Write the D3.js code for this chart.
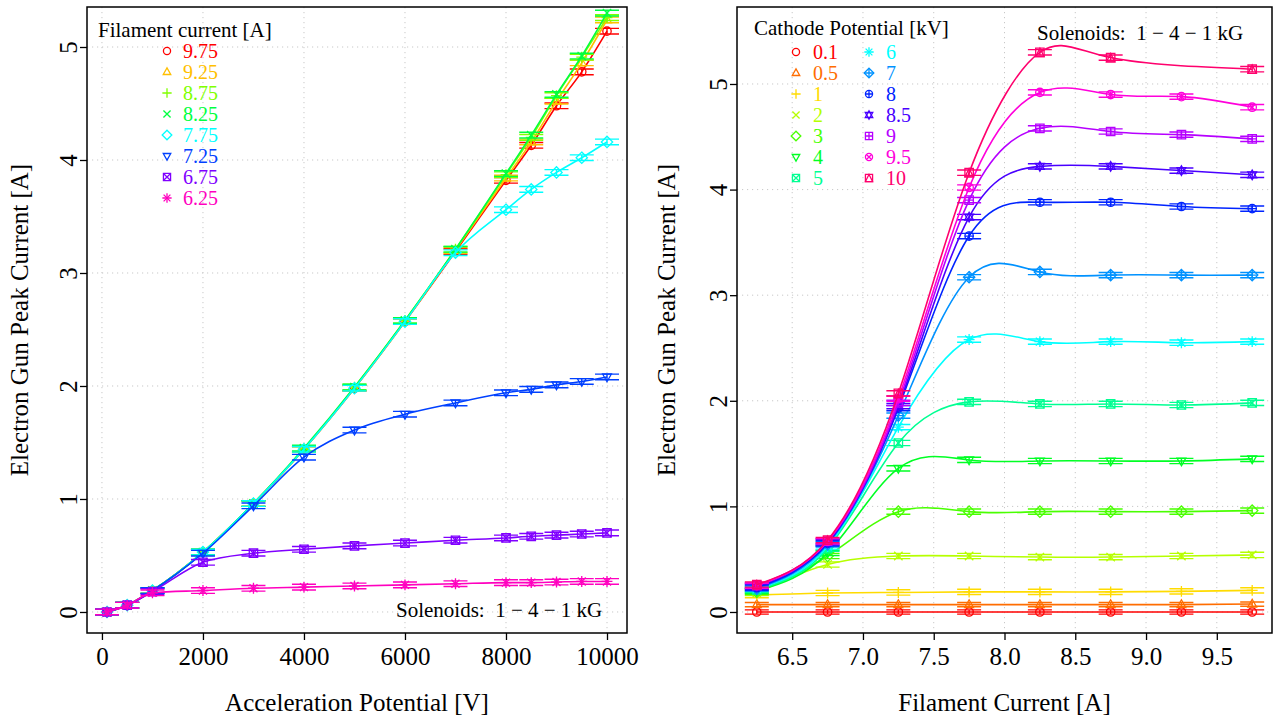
<!DOCTYPE html>
<html><head><meta charset="utf-8">
<script src="https://cdn.jsdelivr.net/npm/d3@7"></script>
<style>body{margin:0;background:#fff}svg{display:block}text{font-family:"Liberation Serif","Times New Roman",serif}</style>
</head><body><svg id="c" width="1282" height="719"></svg>
<script>
// ---------------- DATA ----------------
// Left panel: peak current vs acceleration potential, one series per filament current
const leftX = [100, 500, 1000, 2000, 3000, 4000, 5000, 6000, 7000, 8000, 8500, 9000, 9500, 10000];
const leftNames = ["9.75", "9.25", "8.75", "8.25", "7.75", "7.25", "6.75", "6.25"];
const leftY975 = [0.0, 0.06, 0.19, 0.53, 0.96, 1.44, 1.98, 2.57, 3.19, 3.82, 4.13, 4.48, 4.78, 5.14];
const leftY925 = [0.0, 0.06, 0.19, 0.53, 0.96, 1.44, 1.98, 2.57, 3.20, 3.84, 4.16, 4.52, 4.86, 5.24];
const leftY875 = [0.0, 0.06, 0.19, 0.53, 0.96, 1.44, 1.99, 2.58, 3.21, 3.87, 4.20, 4.57, 4.91, 5.26];
const leftY825 = [0.0, 0.06, 0.19, 0.53, 0.96, 1.45, 1.99, 2.58, 3.21, 3.88, 4.22, 4.58, 4.92, 5.30];
const leftY775 = [0.0, 0.06, 0.19, 0.53, 0.96, 1.44, 1.98, 2.57, 3.18, 3.56, 3.74, 3.89, 4.02, 4.16];
const leftY725 = [0.0, 0.06, 0.19, 0.52, 0.94, 1.37, 1.61, 1.75, 1.85, 1.94, 1.97, 2.01, 2.04, 2.08];
const leftY675 = [0.0, 0.06, 0.18, 0.44, 0.52, 0.555, 0.585, 0.61, 0.635, 0.655, 0.67, 0.68, 0.69, 0.70];
const leftY625 = [0.0, 0.06, 0.17, 0.19, 0.21, 0.22, 0.23, 0.24, 0.25, 0.26, 0.26, 0.265, 0.27, 0.27];
const leftErr = [0.025, 0.025, 0.025, 0.025, 0.025, 0.025, 0.025, 0.025];
const leftXTicks = [0, 2000, 4000, 6000, 8000, 10000];
const leftYTicks = [0, 1, 2, 3, 4, 5];

// Right panel: peak current vs filament current, one series per cathode potential
const rightX = [6.25, 6.75, 7.25, 7.75, 8.25, 8.75, 9.25, 9.75];
const rightNames = ["0.1", "0.5", "1", "2", "3", "4", "5", "6", "7", "8", "8.5", "9", "9.5", "10"];
const rY01 = [0.0, 0.0, 0.0, 0.0, 0.0, 0.0, 0.0, 0.0];
const rY05 = [0.07, 0.07, 0.07, 0.07, 0.07, 0.07, 0.07, 0.075];
const rY1 = [0.16, 0.18, 0.185, 0.19, 0.19, 0.19, 0.195, 0.205];
const rY2 = [0.18, 0.45, 0.53, 0.53, 0.52, 0.52, 0.53, 0.54];
const rY3 = [0.19, 0.53, 0.95, 0.95, 0.95, 0.95, 0.95, 0.96];
const rY4 = [0.20, 0.56, 1.36, 1.44, 1.43, 1.43, 1.43, 1.45];
const rY5 = [0.21, 0.60, 1.60, 1.99, 1.97, 1.97, 1.96, 1.98];
const rY6 = [0.22, 0.62, 1.75, 2.58, 2.56, 2.56, 2.55, 2.56];
const rY7 = [0.22, 0.64, 1.86, 3.17, 3.22, 3.19, 3.19, 3.19];
const rY8 = [0.23, 0.65, 1.93, 3.56, 3.88, 3.88, 3.84, 3.82];
const rY85 = [0.24, 0.66, 1.95, 3.74, 4.22, 4.22, 4.18, 4.14];
const rY9 = [0.25, 0.67, 1.98, 3.90, 4.58, 4.55, 4.52, 4.48];
const rY95 = [0.25, 0.67, 2.02, 4.02, 4.92, 4.90, 4.88, 4.78];
const rY10 = [0.26, 0.68, 2.07, 4.16, 5.30, 5.25, null, 5.14];
const rightErr = [0.02, 0.02, 0.025, 0.025, 0.025, 0.025, 0.025, 0.025, 0.025, 0.025, 0.025, 0.025, 0.025, 0.025];
const rightXTicks = [6.5, 7.0, 7.5, 8.0, 8.5, 9.0, 9.5];
const rightYTicks = [0, 1, 2, 3, 4, 5];

// ---------------- STYLE ----------------
const leftColors = ["#FF0000", "#FFBF00", "#80FF00", "#00FF40", "#00FFFF", "#0040FF", "#8000FF", "#FF00BF"];
const leftPch = [1, 2, 3, 4, 5, 6, 7, 8];
const rightColors = ["#FF0000", "#FF6D00", "#FFDB00", "#B6FF00", "#49FF00", "#00FF24", "#00FF92", "#00FFFF",
  "#0092FF", "#0024FF", "#4900FF", "#B600FF", "#FF00DB", "#FF006D"];
const rightPch = [1, 2, 3, 4, 5, 6, 7, 8, 9, 10, 11, 12, 13, 14];
const FONT = '"Liberation Serif","Times New Roman",serif';

const leftSeries = [leftY975, leftY925, leftY875, leftY825, leftY775, leftY725, leftY675, leftY625];
const rightSeries = [rY01, rY05, rY1, rY2, rY3, rY4, rY5, rY6, rY7, rY8, rY85, rY9, rY95, rY10];

const svg = d3.select("#c");
svg.append("rect").attr("width", 1282).attr("height", 719).attr("fill", "#fff");

function sym(g, pch, cx, cy, col, scale) {
  const r = 4.2 * (scale || 1);
  const s = g.append("g").attr("transform", `translate(${cx},${cy})`)
    .attr("fill", "none").attr("stroke", col).attr("stroke-width", 1.3);
  const P = d => s.append("path").attr("d", d);
  const C = rr => s.append("circle").attr("r", rr);
  const tri = `M0,${-r * 1.15}L${r * 1.05},${r * 0.7}L${-r * 1.05},${r * 0.7}Z`;
  const triD = `M0,${r * 1.15}L${r * 1.05},${-r * 0.7}L${-r * 1.05},${-r * 0.7}Z`;
  const plus = k => `M${-r * k},0H${r * k}M0,${-r * k}V${r * k}`;
  const cross = k => `M${-r * k},${-r * k}L${r * k},${r * k}M${-r * k},${r * k}L${r * k},${-r * k}`;
  const sq = `M${-r},${-r}H${r}V${r}H${-r}Z`;
  const dia = `M0,${-r * 1.35}L${r * 1.35},0L0,${r * 1.35}L${-r * 1.35},0Z`;
  switch (pch) {
    case 1: C(r); break;
    case 2: P(tri); break;
    case 3: P(plus(1.3)); break;
    case 4: P(cross(1)); break;
    case 5: P(dia); break;
    case 6: P(triD); break;
    case 7: P(sq); P(cross(1)); break;
    case 8: P(plus(1.3)); P(cross(0.95)); break;
    case 9: P(dia); P(plus(1.35)); break;
    case 10: C(r); P(plus(1)); break;
    case 11: P(tri); P(triD); break;
    case 12: P(sq); P(plus(1)); break;
    case 13: C(r); P(cross(0.72)); break;
    case 14: P(sq); P(`M0,${-r}L${r},${r}L${-r},${r}Z`); break;
  }
}

function panel(cfg) {
  const x = d3.scaleLinear().domain(cfg.xd).range([cfg.x0, cfg.x1]);
  const y = d3.scaleLinear().domain(cfg.yd).range([cfg.y1, cfg.y0]);
  const g = svg.append("g");
  // grid
  g.append("g").selectAll("line").data(cfg.xt).join("line")
    .attr("x1", d => x(d)).attr("x2", d => x(d)).attr("y1", cfg.y0).attr("y2", cfg.y1)
    .attr("stroke", "#c8c8c8").attr("stroke-width", 1).attr("stroke-dasharray", "1.2,3.8");
  g.append("g").selectAll("line").data(cfg.yt).join("line")
    .attr("y1", d => y(d)).attr("y2", d => y(d)).attr("x1", cfg.x0).attr("x2", cfg.x1)
    .attr("stroke", "#c8c8c8").attr("stroke-width", 1).attr("stroke-dasharray", "1.2,3.8");
  // axes
  const ax = g.append("g").attr("transform", `translate(0,${cfg.y1})`)
    .call(d3.axisBottom(x).tickValues(cfg.xt).tickFormat(cfg.xf).tickSize(7));
  ax.select(".domain").remove();
  ax.selectAll("line").attr("stroke", "#000").attr("stroke-width", 1.3);
  ax.selectAll("text").attr("y", 32).attr("dy", 0).attr("font-size", 25)
    .attr("fill", "#000").attr("font-family", FONT);
  const ay = g.append("g").attr("transform", `translate(${cfg.x0},0)`)
    .call(d3.axisLeft(y).tickValues(cfg.yt).tickFormat(d3.format("d")).tickSize(7));
  ay.select(".domain").remove();
  ay.selectAll("line").attr("stroke", "#000").attr("stroke-width", 1.3);
  ay.selectAll("text").attr("transform", "rotate(-90)").attr("x", 0).attr("y", -10).attr("dy", 0)
    .attr("text-anchor", "middle").attr("font-size", 25).attr("fill", "#000").attr("font-family", FONT);

  // series
  const line = d3.line().x(d => x(d[0])).y(d => y(d[1])).curve(cfg.curve);
  cfg.series.forEach((vals, i) => {
    const pts = cfg.xs.map((xv, j) => [xv, vals[j]]).filter(d => d[1] != null);
    const col = cfg.colors[i];
    const sg = g.append("g");
    sg.append("path").datum(pts).attr("d", line).attr("fill", "none")
      .attr("stroke", col).attr("stroke-width", 1.6);
    const e = cfg.err[i];
    pts.forEach(p => {
      const px = x(p[0]), pyT = y(p[1] + e), pyB = y(p[1] - e);
      sg.append("path").attr("d",
        `M${px - 12},${pyT}H${px + 12}M${px - 12},${pyB}H${px + 12}M${px},${pyT}V${pyB}`)
        .attr("stroke", col).attr("stroke-width", 1.4).attr("fill", "none");
      sym(sg, cfg.pch[i], px, y(p[1]), col);
    });
  });
  // box
  g.append("rect").attr("x", cfg.x0).attr("y", cfg.y0).attr("width", cfg.x1 - cfg.x0)
    .attr("height", cfg.y1 - cfg.y0).attr("fill", "none").attr("stroke", "#000").attr("stroke-width", 1.5);
  // titles
  svg.append("text").attr("x", (cfg.x0 + cfg.x1) / 2).attr("y", 711).attr("text-anchor", "middle")
    .attr("font-size", 25).attr("font-family", FONT).text(cfg.xlab);
  svg.append("text").attr("transform", `translate(${cfg.ylx},${(cfg.y0 + cfg.y1) / 2}) rotate(-90)`)
    .attr("text-anchor", "middle").attr("font-size", 25).attr("font-family", FONT).text(cfg.ylab);
  return g;
}

panel({
  x0: 87, x1: 627, y0: 7, y1: 633, xd: [-296, 10396], yd: [-0.186, 5.354],
  xt: leftXTicks, yt: leftYTicks, xf: d3.format("d"), xs: leftX, series: leftSeries,
  colors: leftColors, pch: leftPch, err: leftErr, curve: d3.curveMonotoneX,
  xlab: "Acceleration Potential [V]", ylab: "Electron Gun Peak Current [A]", ylx: 28
});
panel({
  x0: 737, x1: 1272, y0: 7, y1: 633, xd: [6.11, 9.89], yd: [-0.199, 5.729],
  xt: rightXTicks, yt: rightYTicks, xf: d3.format(".1f"), xs: rightX, series: rightSeries,
  colors: rightColors, pch: rightPch, err: rightErr, curve: d3.curveNatural,
  xlab: "Filament Current [A]", ylab: "Electron Gun Peak Current [A]", ylx: 675
});

// legends
function txt(x, y, s, col, size) {
  return svg.append("text").attr("x", x).attr("y", y).attr("dominant-baseline", "central")
    .attr("font-size", size).attr("font-family", FONT).attr("fill", col).text(s);
}
txt(98, 30, "Filament current [A]", "#000", 21);
leftNames.forEach((n, i) => {
  const yy = 51 + 21 * i;
  sym(svg, leftPch[i], 167, yy, leftColors[i], 0.85);
  txt(183, yy, n, leftColors[i], 20);
});
txt(396, 610, "Solenoids:  1 \u2212 4 \u2212 1 kG", "#000", 21).style("white-space", "pre");

txt(754, 28, "Cathode Potential [kV]", "#000", 21);
rightNames.forEach((n, i) => {
  const col = i < 7 ? 0 : 1, row = i % 7;
  const yy = 52 + 21 * row;
  sym(svg, rightPch[i], col ? 869 : 796, yy, rightColors[i], 0.85);
  txt(col ? 886 : 813, yy, n, rightColors[i], 20);
});
txt(1037, 33, "Solenoids:  1 \u2212 4 \u2212 1 kG", "#000", 21).style("white-space", "pre");
</script></body></html>
